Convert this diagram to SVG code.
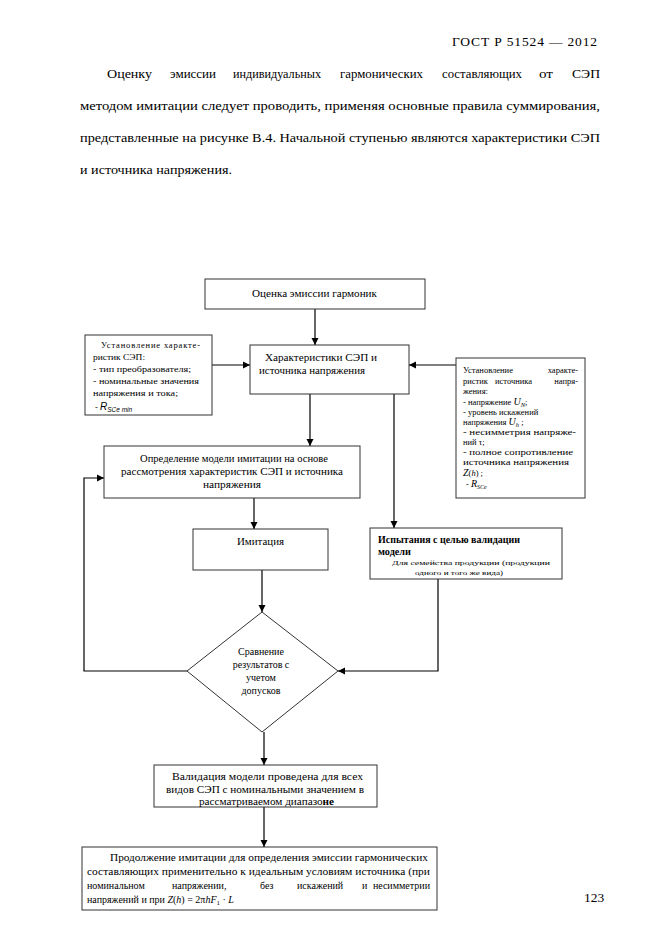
<svg xmlns="http://www.w3.org/2000/svg" width="661" height="935" viewBox="0 0 661 935">
<style>
text{font-family:"Liberation Serif","Noto Serif","DejaVu Serif",serif;fill:#000}
.p{font-size:13.5px}
.b{font-size:10px}
.s{font-size:8.5px}
.xs{font-size:6.5px}
.box{fill:#fff;stroke:#333;stroke-width:1}
.ln{fill:none;stroke:#000;stroke-width:1.2}
.it{font-style:italic}
.sans{font-family:"Liberation Sans",Arial,sans-serif}
.e{text-anchor:end}
</style>
<defs>
<marker id="ah" markerWidth="8" markerHeight="8" refX="7" refY="4" orient="auto" markerUnits="userSpaceOnUse">
<path d="M0,0.5 L7,4 L0,7.5 z" fill="#000"/>
</marker>
</defs>
<rect width="661" height="935" fill="#fff"/>

<g id="page-text">
<text class="p" x="452" y="46" textLength="145" lengthAdjust="spacing">ГОСТ Р  51524  — 2012</text>
<text class="p" x="107" y="78" textLength="45" lengthAdjust="spacingAndGlyphs">Оценку</text>
<text class="p" x="170" y="78" textLength="46" lengthAdjust="spacingAndGlyphs">эмиссии</text>
<text class="p" x="233" y="78" textLength="88" lengthAdjust="spacingAndGlyphs">индивидуальных</text>
<text class="p" x="340" y="78" textLength="83" lengthAdjust="spacingAndGlyphs">гармонических</text>
<text class="p" x="442" y="78" textLength="80" lengthAdjust="spacingAndGlyphs">составляющих</text>
<text class="p" x="539" y="78" textLength="14" lengthAdjust="spacingAndGlyphs">от</text>
<text class="p" x="572" y="78" textLength="28" lengthAdjust="spacingAndGlyphs">СЭП</text>
<text class="p" x="80" y="110" textLength="520" lengthAdjust="spacingAndGlyphs">методом имитации  следует проводить,  применяя основные правила суммирования,</text>
<text class="p" x="80" y="142" textLength="520" lengthAdjust="spacingAndGlyphs">представленные на рисунке В.4.  Начальной ступенью являются характеристики СЭП</text>
<text class="p" x="80" y="174" textLength="152" lengthAdjust="spacingAndGlyphs">и источника напряжения.</text>
<text class="p" x="584" y="902">123</text>
</g>

<g id="connectors">
<line class="ln" x1="315" y1="309" x2="315" y2="345" marker-end="url(#ah)"/>
<line class="ln" x1="212" y1="365" x2="250" y2="365" marker-end="url(#ah)"/>
<line class="ln" x1="456" y1="365" x2="409" y2="365" marker-end="url(#ah)"/>
<line class="ln" x1="310" y1="394" x2="310" y2="446" marker-end="url(#ah)"/>
<line class="ln" x1="394" y1="394" x2="394" y2="528" marker-end="url(#ah)"/>
<line class="ln" x1="254" y1="498" x2="254" y2="529" marker-end="url(#ah)"/>
<line class="ln" x1="262" y1="570" x2="262" y2="612" marker-end="url(#ah)"/>
<polyline class="ln" points="438,579 438,671 338,671" marker-end="url(#ah)"/>
<polyline class="ln" points="187,671 84,671 84,478 104,478" marker-end="url(#ah)"/>
<line class="ln" x1="264" y1="732" x2="264" y2="765" marker-end="url(#ah)"/>
<line class="ln" x1="264" y1="807" x2="264" y2="847" marker-end="url(#ah)"/>
</g>

<g id="n-estimate">
<rect class="box" x="205" y="279" width="220" height="30"/>
<text class="b" x="252" y="297" textLength="125" lengthAdjust="spacingAndGlyphs">Оценка эмиссии гармоник</text>
</g>

<g id="n-characteristics">
<rect class="box" x="250" y="345" width="159" height="49"/>
<text class="b" x="265" y="361" textLength="112" lengthAdjust="spacingAndGlyphs">Характеристики СЭП и</text>
<text class="b" x="259" y="374" textLength="106" lengthAdjust="spacingAndGlyphs">источника напряжения</text>
</g>

<g id="n-left">
<rect class="box" x="85" y="335" width="127" height="80"/>
<text class="s" x="101" y="348" textLength="99" lengthAdjust="spacing">Установление  характе-</text>
<text class="s" x="93" y="360" textLength="52" lengthAdjust="spacingAndGlyphs">ристик СЭП:</text>
<text class="s" x="93" y="372" textLength="98" lengthAdjust="spacingAndGlyphs">- тип преобразователя;</text>
<text class="s" x="93" y="384" textLength="106" lengthAdjust="spacingAndGlyphs">- номинальные значения</text>
<text class="s" x="93" y="396" textLength="85" lengthAdjust="spacingAndGlyphs">напряжения и тока;</text>
<text class="s" x="95" y="410">- <tspan class="sans it" font-size="10">R</tspan><tspan class="sans it" font-size="6.5" dy="2">SCe min</tspan></text>
</g>

<g id="n-right">
<rect class="box" x="456" y="358" width="129" height="140"/>
<text class="s" x="463" y="373">Установление</text><text class="s e" x="578" y="373">характе-</text>
<text class="s" x="463" y="384">ристик</text><text class="s" x="495" y="384">источника</text><text class="s e" x="578" y="384">напря-</text>
<text class="s" x="463" y="394">жения:</text>
<text class="s" x="463" y="405">-  напряжение  <tspan class="it" font-size="10">U</tspan><tspan class="it" font-size="6.5" dy="2">N</tspan><tspan dy="-2">;</tspan></text>
<text class="s" x="463" y="415">-   уровень искажений</text>
<text class="s" x="463" y="425">напряжения <tspan class="it" font-size="10">U</tspan><tspan class="it" font-size="6.5" dy="2">h</tspan><tspan dy="-2"> ;</tspan></text>
<text class="s" x="463" y="435" textLength="113" lengthAdjust="spacingAndGlyphs">- несимметрия напряже-</text>
<text class="s" x="463" y="445">ний τ;</text>
<text class="s" x="463" y="455" textLength="110" lengthAdjust="spacingAndGlyphs">- полное сопротивление</text>
<text class="s" x="463" y="465" textLength="106" lengthAdjust="spacingAndGlyphs">источника напряжения</text>
<text class="s" x="463" y="476"><tspan class="it" font-size="10">Z</tspan>(<tspan class="it">h</tspan>) ;</text>
<text class="s" x="466" y="487">-  <tspan class="it" font-size="10">R</tspan><tspan class="it" font-size="6" dy="2">SCe</tspan></text>
</g>

<g id="n-model">
<rect class="box" x="104" y="446" width="256" height="52"/>
<text class="b" x="140" y="462" textLength="188" lengthAdjust="spacingAndGlyphs">Определение модели имитации на основе</text>
<text class="b" x="121" y="475" textLength="222" lengthAdjust="spacingAndGlyphs">рассмотрения характеристик СЭП и источника</text>
<text class="b" x="203" y="488" textLength="58" lengthAdjust="spacingAndGlyphs">напряжения</text>
</g>

<g id="n-imitation">
<rect class="box" x="193" y="529" width="135" height="41"/>
<text class="b" x="237" y="545" textLength="47" lengthAdjust="spacingAndGlyphs">Имитация</text>
</g>

<g id="n-tests">
<rect class="box" x="370" y="528" width="192" height="51"/>
<text font-size="9.5" font-weight="bold" x="378" y="543" textLength="142" lengthAdjust="spacingAndGlyphs">Испытания с целью валидации</text>
<text font-size="9.5" font-weight="bold" x="378" y="555" textLength="33" lengthAdjust="spacingAndGlyphs">модели</text>
<text class="xs" x="392" y="565" textLength="158" lengthAdjust="spacingAndGlyphs">Для семейства продукции  (продукции</text>
<text class="xs" x="415" y="575" textLength="88" lengthAdjust="spacingAndGlyphs">одного и того же вида)</text>
</g>

<g id="n-compare">
<polygon class="box" points="262,612 338,671 262,732 187,671"/>
<text class="b" text-anchor="middle"><tspan x="261" y="655">Сравнение</tspan><tspan x="261" y="668">результатов с</tspan><tspan x="261" y="681">учетом</tspan><tspan x="261" y="694">допусков</tspan></text>
</g>

<g id="n-validation">
<rect class="box" x="154" y="765" width="223" height="42"/>
<text class="b" x="172" y="780" textLength="191" lengthAdjust="spacingAndGlyphs">Валидация модели проведена для всех</text>
<text class="b" x="166" y="793" textLength="198" lengthAdjust="spacingAndGlyphs">видов СЭП с номинальными  значением в</text>
<text class="b" x="199" y="805" textLength="135" lengthAdjust="spacingAndGlyphs">рассматриваемом диапазо<tspan font-weight="bold">не</tspan></text>
</g>

<g id="n-continue">
<rect class="box" x="82" y="847" width="355" height="63"/>
<text class="b" x="110" y="861" textLength="318" lengthAdjust="spacingAndGlyphs">Продолжение имитации для определения эмиссии гармонических</text>
<text class="b" x="87" y="875" textLength="343" lengthAdjust="spacingAndGlyphs">составляющих применительно к идеальным условиям источника (при</text>
<text class="b" x="87" y="889">номинальном</text><text class="b" x="172" y="889">напряжении,</text><text class="b" x="260" y="889">без</text><text class="b" x="297" y="889">искажений</text><text class="b" x="362" y="889">и</text><text class="b e" x="430" y="889">несимметрии</text>
<text class="b" x="87" y="903">напряжений и при  <tspan class="it">Z</tspan>(<tspan class="it">h</tspan>) = 2π<tspan class="it">hF</tspan><tspan font-size="7" dy="2">1</tspan><tspan dy="-2"> · </tspan><tspan class="it">L</tspan></text>
</g>
</svg>
